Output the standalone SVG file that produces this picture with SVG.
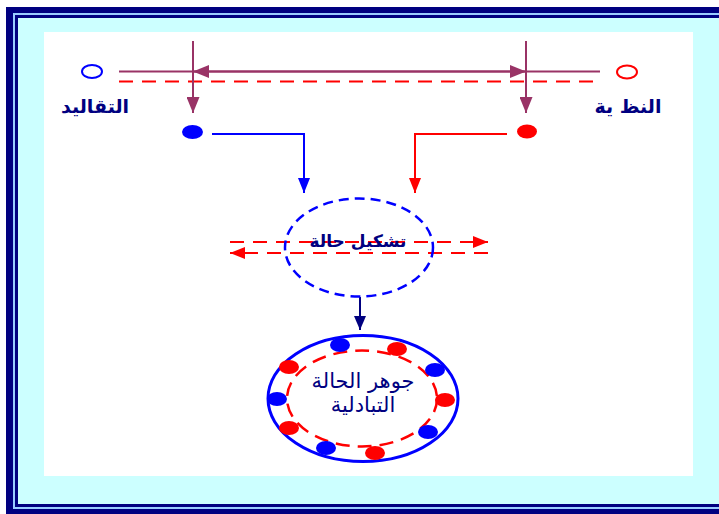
<svg xmlns="http://www.w3.org/2000/svg" width="719" height="514" viewBox="0 0 719 514">
  <defs>
    <style>
      .lbl { font-family: "DejaVu Sans", sans-serif; fill: #000080; text-anchor: middle; }
      .b { font-weight: bold; }
      .pur { stroke: #993366; stroke-width: 2; fill: none; }
      .rdash { stroke: #ff0000; stroke-width: 2; fill: none; stroke-dasharray: 14 9; }
    </style>
    <marker id="aPur" viewBox="0 0 16 13" refX="16" refY="6.5" markerWidth="16" markerHeight="13" markerUnits="userSpaceOnUse" orient="auto">
      <path d="M0,0 L16,6.5 L0,13 z" fill="#993366"/>
    </marker>
    <marker id="aBlue" viewBox="0 0 15 12" refX="15" refY="6" markerWidth="15" markerHeight="12" markerUnits="userSpaceOnUse" orient="auto">
      <path d="M0,0 L15,6 L0,12 z" fill="#0000ff"/>
    </marker>
    <marker id="aRed" viewBox="0 0 15 12" refX="15" refY="6" markerWidth="15" markerHeight="12" markerUnits="userSpaceOnUse" orient="auto">
      <path d="M0,0 L15,6 L0,12 z" fill="#ff0000"/>
    </marker>
    <marker id="aNavy" viewBox="0 0 14 12" refX="14" refY="6" markerWidth="14" markerHeight="12" markerUnits="userSpaceOnUse" orient="auto">
      <path d="M0,0 L14,6 L0,12 z" fill="#000080"/>
    </marker>
  </defs>

  <!-- frame -->
  <rect x="0" y="0" width="719" height="514" fill="#ffffff"/>
  <rect x="6" y="7" width="730" height="520" fill="#000080"/>
  <rect x="13" y="13" width="730" height="496" fill="#99ccff"/>
  <rect x="15" y="15" width="730" height="492" fill="#000080"/>
  <rect x="18" y="18" width="730" height="486" fill="#ccffff"/>
  <rect x="44" y="32" width="649" height="444" fill="#ffffff"/>

  <!-- connectors -->
  <g id="connectors">
    <line x1="119" y1="71.5" x2="600" y2="71.5" class="pur"/>
    <line x1="360" y1="71.5" x2="193" y2="71.5" class="pur" marker-end="url(#aPur)"/>
    <line x1="360" y1="71.5" x2="526" y2="71.5" class="pur" marker-end="url(#aPur)"/>
    <line x1="119" y1="81.5" x2="600" y2="81.5" class="rdash"/>
    <line x1="193" y1="41" x2="193" y2="113" class="pur" marker-end="url(#aPur)"/>
    <line x1="526" y1="41" x2="526" y2="113" class="pur" marker-end="url(#aPur)"/>
    <polyline points="212,134 304,134 304,193" fill="none" stroke="#0000ff" stroke-width="2" marker-end="url(#aBlue)"/>
    <polyline points="507,134 415,134 415,193" fill="none" stroke="#ff0000" stroke-width="2" marker-end="url(#aRed)"/>
    <line x1="230" y1="242" x2="488" y2="242" class="rdash" marker-end="url(#aRed)"/>
    <line x1="488" y1="253" x2="230" y2="253" class="rdash" marker-end="url(#aRed)"/>
    <line x1="360" y1="297" x2="360" y2="330" stroke="#000080" stroke-width="2" marker-end="url(#aNavy)"/>
  </g>

  <!-- left pole -->
  <g id="traditions">
    <ellipse cx="92" cy="71.5" rx="10" ry="6.5" fill="#ffffff" stroke="#0000ff" stroke-width="2"/>
    <text x="95" y="113" class="lbl b" font-size="19">التقاليد</text>
  </g>

  <!-- right pole -->
  <g id="theory">
    <ellipse cx="627" cy="72" rx="10" ry="6.5" fill="#ffffff" stroke="#ff0000" stroke-width="2"/>
    <text x="628" y="113" class="lbl b" font-size="19">النظ ية</text>
  </g>

  <g id="dotBlue">
    <ellipse cx="192.5" cy="132" rx="10.5" ry="7" fill="#0000ff"/>
  </g>
  <g id="dotRed">
    <ellipse cx="527" cy="131.5" rx="10" ry="7" fill="#ff0000"/>
  </g>

  <!-- forming the case -->
  <g id="forming">
    <ellipse cx="359" cy="247.5" rx="74" ry="49" fill="none" stroke="#0000ff" stroke-width="2.5" stroke-dasharray="10 6"/>
    <text x="358" y="247" class="lbl b" font-size="17">تشكيل حالة</text>
  </g>

  <!-- essence of the exchange case -->
  <g id="essence">
    <ellipse cx="363" cy="398.5" rx="95" ry="63" fill="#ffffff" stroke="#0000ff" stroke-width="3"/>
    <ellipse cx="362" cy="398.5" rx="75" ry="48" fill="none" stroke="#ff0000" stroke-width="2.5" stroke-dasharray="14 8"/>
    <g fill="#0000ff">
      <ellipse cx="340" cy="345" rx="10" ry="7"/>
      <ellipse cx="435" cy="370" rx="10" ry="7"/>
      <ellipse cx="277" cy="399" rx="10" ry="7"/>
      <ellipse cx="428" cy="432" rx="10" ry="7"/>
      <ellipse cx="326" cy="448" rx="10" ry="7"/>
    </g>
    <g fill="#ff0000">
      <ellipse cx="397" cy="349" rx="10" ry="7"/>
      <ellipse cx="289" cy="367" rx="10" ry="7"/>
      <ellipse cx="445" cy="400" rx="10" ry="7"/>
      <ellipse cx="289" cy="428" rx="10" ry="7"/>
      <ellipse cx="375" cy="453" rx="10" ry="7"/>
    </g>
    <text x="363" y="388" class="lbl" font-size="21">جوهر الحالة</text>
    <text x="363" y="412" class="lbl" font-size="21">التبادلية</text>
  </g>
</svg>
